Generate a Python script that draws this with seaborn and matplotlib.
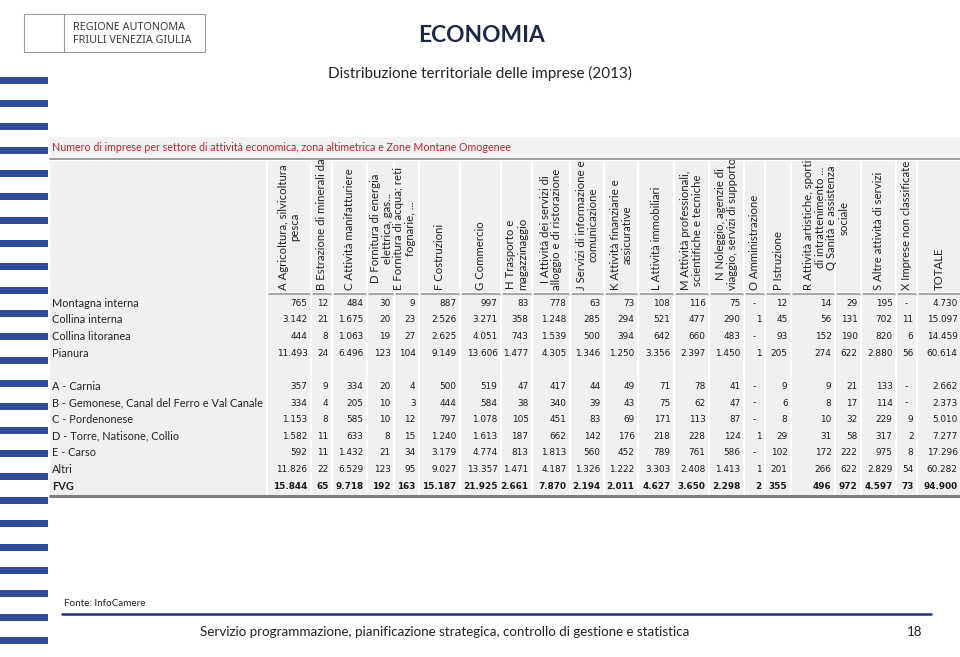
import numpy as np
import pandas as pd
import matplotlib
matplotlib.use("Agg")
import matplotlib.pyplot as plt
from matplotlib.colors import ListedColormap
from matplotlib.patches import Rectangle
import seaborn as sns

# dati (Numero di imprese per settore, 2013)
zone = ["Montagna interna", "Collina interna", "Collina litoranea", "Pianura", "",
        "A - Carnia", "B - Gemonese, Canal del Ferro e Val Canale", "C - Pordenonese",
        "D - Torre, Natisone, Collio", "E - Carso", "Altri", "FVG"]
settori = ["A", "B", "C", "D", "E", "F", "G", "H", "I", "J", "K", "L", "M", "N",
           "O", "P", "R", "Q", "S", "X", "TOTALE"]

montagna_interna = [765, 12, 484, 30, 9, 887, 997, 83, 778, 63, 73, 108, 116, 75, 0, 12, 14, 29, 195, 0, 4730]
collina_interna = [3142, 21, 1675, 20, 23, 2526, 3271, 358, 1248, 285, 294, 521, 477, 290, 1, 45, 56, 131, 702, 11, 15097]
collina_litoranea = [444, 8, 1063, 19, 27, 2625, 4051, 743, 1539, 500, 394, 642, 660, 483, 0, 93, 152, 190, 820, 6, 14459]
pianura = [11493, 24, 6496, 123, 104, 9149, 13606, 1477, 4305, 1346, 1250, 3356, 2397, 1450, 1, 205, 274, 622, 2880, 56, 60614]
carnia = [357, 9, 334, 20, 4, 500, 519, 47, 417, 44, 49, 71, 78, 41, 0, 9, 9, 21, 133, 0, 2662]
gemonese = [334, 4, 205, 10, 3, 444, 584, 38, 340, 39, 43, 75, 62, 47, 0, 6, 8, 17, 114, 0, 2373]
pordenonese = [1153, 8, 585, 10, 12, 797, 1078, 105, 451, 83, 69, 171, 113, 87, 0, 8, 10, 32, 229, 9, 5010]
torre = [1582, 11, 633, 8, 15, 1240, 1613, 187, 662, 142, 176, 218, 228, 124, 1, 29, 31, 58, 317, 2, 7277]
carso = [592, 11, 1432, 21, 34, 3179, 4774, 813, 1813, 560, 452, 789, 761, 586, 0, 102, 172, 222, 975, 8, 17296]
altri = [11826, 22, 6529, 123, 95, 9027, 13357, 1471, 4187, 1326, 1222, 3303, 2408, 1413, 1, 201, 266, 622, 2829, 54, 60282]
fvg = [15844, 65, 9718, 192, 163, 15187, 21925, 2661, 7870, 2194, 2011, 4627, 3650, 2298, 2, 355, 496, 972, 4597, 73, 94900]

# intestazioni di colonna (testo, prima e ultima colonna coperta)
intestazioni = [
    ("A Agricoltura, silvicoltura\npesca", 0, 0),
    ("B Estrazione di minerali da cave e miniere", 1, 1),
    ("C Attività manifatturiere", 2, 2),
    ("D Fornitura di energia\nelettrica, gas...\nE Fornitura di acqua; reti\nfognarie, ...", 3, 4),
    ("F Costruzioni", 5, 5),
    ("G Commercio", 6, 6),
    ("H Trasporto e\nmagazzinaggio", 7, 7),
    ("I Attività dei servizi di\nalloggio e di ristorazione", 8, 8),
    ("J Servizi di informazione e\ncomunicazione", 9, 9),
    ("K Attività finanziarie e\nassicurative", 10, 10),
    ("L Attività immobiliari", 11, 11),
    ("M Attività professionali,\nscientifiche e tecniche", 12, 12),
    ("N Noleggio, agenzie di\nviaggio, servizi di supporto", 13, 13),
    ("O Amministrazione", 14, 14),
    ("P Istruzione", 15, 15),
    ("R Attività artistiche, sportive,\ndi intrattenimento ...\nQ Sanità e assistenza\nsociale", 16, 17),
    ("S Altre attività di servizi", 18, 18),
    ("X Imprese non classificate", 19, 19),
    ("TOTALE", 20, 20),
]

righe = [montagna_interna, collina_interna, collina_litoranea, pianura, [np.nan] * 21,
         carnia, gemonese, pordenonese, torre, carso, altri, fvg]
df = pd.DataFrame(righe, index=zone, columns=settori)


def fmt(v):
    if pd.isna(v):
        return ""
    if v == 0:
        return "-"
    return f"{int(v):,}".replace(",", ".")


# layout in pixel
W, H = 960, 657
col_left = [268, 312, 333, 368, 395, 420, 461, 502, 533, 571, 605, 639, 675, 710, 745, 766, 792, 836, 862, 897, 918]
col_right = [310, 331, 366, 393, 418, 459, 500, 531, 569, 603, 637, 673, 708, 743, 764, 790, 834, 860, 895, 916, 960]
lab_left, lab_right = 50, 266
head_top, head_bot = 161, 292
data_top, data_bot = 295, 494.5

grigio = "#f0f0f0"
blu = "#2f4b9a"
testo_font = ["Lato", "DejaVu Sans"]
num_font = ["DejaVu Sans"]

sns.set_theme(style="white")
plt.rcParams["font.family"] = testo_font

fig = plt.figure(figsize=(W / 100, H / 100), dpi=100)
ax0 = fig.add_axes([0, 0, 1, 1])
ax0.set_xlim(0, W)
ax0.set_ylim(H, 0)
ax0.axis("off")

# strisce blu a sinistra
strisce_y = 80 + 23.35 * np.arange(25)
ax0.barh(strisce_y, 48, height=7, left=0, color=blu, edgecolor="none")

# logo
ax0.add_patch(Rectangle((24, 14), 181, 38, fill=False, edgecolor="#9a9a9a", lw=0.8))
ax0.plot([64, 64], [14, 52], color="#9a9a9a", lw=0.8)
ax0.text(73, 27.5, "REGIONE AUTONOMA", fontsize=7.8, color="#3c3c3c", va="center",
         family=["Noto Sans"], fontweight="medium")
ax0.text(73, 40.5, "FRIULI VENEZIA GIULIA", fontsize=7.8, color="#3c3c3c", va="center",
         family=["Noto Sans"], fontweight="medium")

# titoli
ax0.text(481, 35, "ECONOMIA", fontsize=16.4, fontweight="bold", color="#1e2745",
         ha="center", va="center")
ax0.text(480, 73, "Distribuzione territoriale delle imprese (2013)", fontsize=11,
         color="#222222", ha="center", va="center")

# banda del sottotitolo tabella
ax0.add_patch(Rectangle((50, 137), W - 50, 21, facecolor="#f2f2f2", edgecolor="none"))
ax0.plot([50, W], [158.5, 158.5], color="#8c8c8c", lw=1.2)
ax0.text(52, 147.5, "Numero di imprese per settore di attività economica, zona altimetrica e Zone Montane Omogenee",
         fontsize=7.7, color="#b3282d", va="center")

# intestazione: sfondo e linee
ax0.add_patch(Rectangle((lab_left, head_top), lab_right - lab_left, data_bot - head_top,
                        facecolor=grigio, edgecolor="none"))
for l, r in zip(col_left, col_right):
    ax0.add_patch(Rectangle((l, head_top), r - l, head_bot - head_top, facecolor=grigio, edgecolor="none"))
    ax0.plot([l, r], [head_bot + 1.5, head_bot + 1.5], color="#a8a8a8", lw=2.2, solid_capstyle="butt")

# testi di intestazione, tagliati al bordo della cella
ax_h = fig.add_axes([0, 1 - head_bot / H, 1, (head_bot - head_top + 1) / H])
ax_h.set_xlim(0, W)
ax_h.set_ylim(head_bot, head_top - 1)
ax_h.axis("off")
for testo, c0, c1 in intestazioni:
    xc = (col_left[c0] + col_right[c1]) / 2
    ax_h.text(xc, 290, testo, rotation=90, rotation_mode="anchor", ha="left", va="center",
              multialignment="center", fontsize=8.2, color="#222222", linespacing=1.1,
              clip_on=True)

# etichette di riga
altezza_riga = (data_bot - data_top) / len(zone)
for i, z in enumerate(zone):
    y = data_top + (i + 0.5) * altezza_riga
    ax0.text(52, y, z, fontsize=7.9, color="#222222", va="center",
             fontweight="bold" if z == "FVG" else "normal")

# colonne numeriche: una heatmap per colonna (larghezze diverse)
for j, s in enumerate(settori):
    l, r = col_left[j], col_right[j]
    ax = fig.add_axes([l / W, 1 - data_bot / H, (r - l) / W, (data_bot - data_top) / H])
    ax.set_facecolor(grigio)
    annot = np.array([[fmt(v)] for v in df[s]])
    sns.heatmap(df[[s]], ax=ax, cmap=ListedColormap([grigio]), cbar=False,
                annot=annot, fmt="", xticklabels=False, yticklabels=False,
                annot_kws={"fontsize": 6.4, "family": num_font})
    for sp in ax.spines.values():
        sp.set_visible(False)
    for t in ax.texts:
        riga = int(t.get_position()[1])
        t.set_color("#1a1a1a")
        if t.get_text() == "-":
            t.set_x(0.5)
            t.set_ha("center")
        else:
            t.set_x(1 - 2.5 / (r - l))
            t.set_ha("right")
        if zone[riga] == "FVG":
            t.set_fontweight("bold")

# linea finale
ax0.plot([lab_left, W], [data_bot + 1.5, data_bot + 1.5], color="#7f7f7f", lw=2.2)

# piede
ax0.text(64, 603, "Fonte: InfoCamere", fontsize=7.1, color="#222222", va="center")
ax0.plot([62, 931], [613.5, 613.5], color="#1f2d7a", lw=1.8)
ax0.text(200, 632, "Servizio programmazione, pianificazione strategica, controllo di gestione e statistica",
         fontsize=9.6, color="#222222", va="center")
ax0.text(915, 632, "18", fontsize=9.6, color="#222222", va="center", ha="center")

fig.savefig("out.png", dpi=100)
